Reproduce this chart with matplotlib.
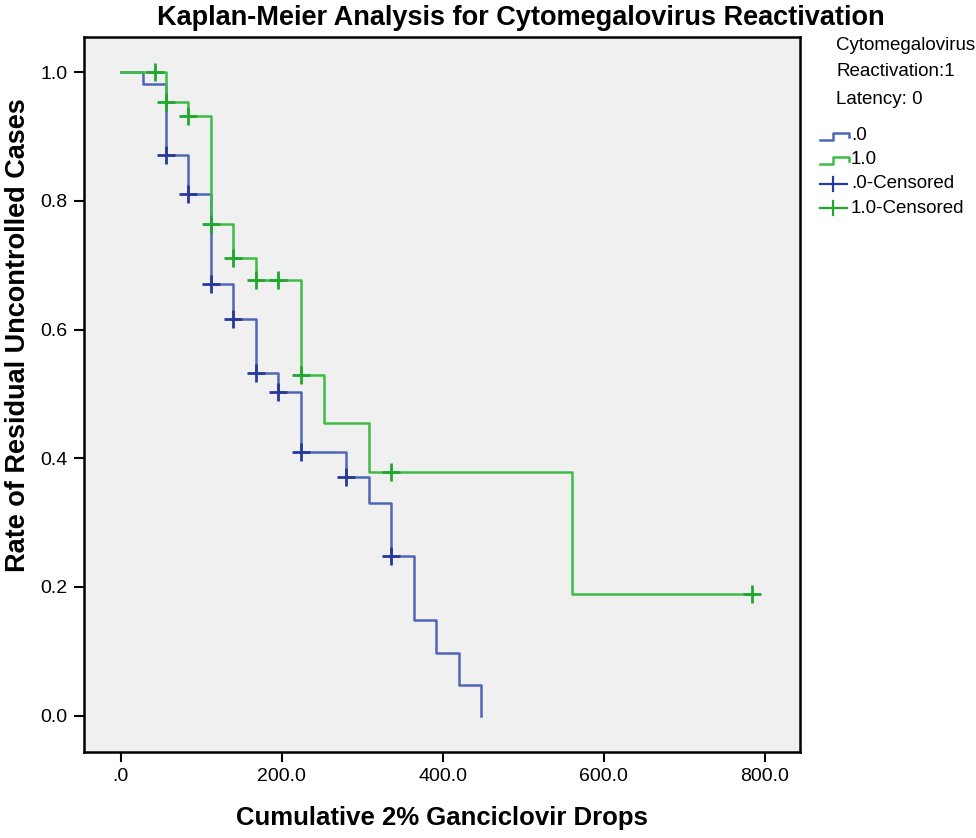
import matplotlib
matplotlib.use("Agg")
import matplotlib.pyplot as plt

plt.rcParams['font.family'] = ['Liberation Sans', 'DejaVu Sans']

# Group ".0"
t0 = [0, 28, 56, 84, 112, 140, 168, 196, 224, 280, 308, 336, 364, 392, 420, 448]
s0 = [1.0, 0.982, 0.871, 0.810, 0.671, 0.617, 0.532, 0.503, 0.409, 0.371, 0.330, 0.248, 0.148, 0.098, 0.048, 0.0]
c0_t = [56, 84, 112, 140, 168, 196, 224, 280, 336]
c0_s = [0.871, 0.810, 0.671, 0.617, 0.532, 0.503, 0.409, 0.371, 0.248]

# Group "1.0"
t1 = [0, 56, 84, 112, 140, 168, 224, 252, 308, 560, 784]
s1 = [1.0, 0.954, 0.932, 0.764, 0.711, 0.677, 0.530, 0.454, 0.379, 0.189, 0.189]
c1_t = [42, 56, 84, 112, 140, 168, 196, 224, 336, 784]
c1_s = [1.0, 0.954, 0.932, 0.764, 0.711, 0.677, 0.677, 0.530, 0.379, 0.189]

xticks = [0, 200, 400, 600, 800]
xticklabels = ['.0', '200.0', '400.0', '600.0', '800.0']
yticks = [0.0, 0.2, 0.4, 0.6, 0.8, 1.0]
yticklabels = ['0.0', '0.2', '0.4', '0.6', '0.8', '1.0']

blue_line = '#4f66b8'
blue_cens = '#27399a'
green_line = '#3dbb46'
green_cens = '#1fa82d'

W, H = 976, 838
fig = plt.figure(figsize=(W / 100, H / 100), dpi=100)
ax = fig.add_axes([84 / W, 1 - 751.7 / H, (800 - 84) / W, (751.7 - 36.7) / H])
ax.set_facecolor('#f0f0f0')

ax.step(t0, s0, where='post', color=blue_line, lw=1.8, zorder=2)
ax.step(t1, s1, where='post', color=green_line, lw=1.8, zorder=3)
ax.plot(c0_t, c0_s, ls='none', marker='+', ms=13, mew=2.0, color=blue_cens, zorder=4)
ax.plot(c1_t, c1_s, ls='none', marker='+', ms=13, mew=2.0, color=green_cens, zorder=5)

ax.set_xlim(-45.6, 843.8)
ax.set_ylim(-0.056, 1.055)
ax.set_xticks(xticks)
ax.set_xticklabels(xticklabels)
ax.set_yticks(yticks)
ax.set_yticklabels(yticklabels)
ax.tick_params(direction='out', length=7, width=1.5, labelsize=14, colors='black', pad=5)
for sp in ax.spines.values():
    sp.set_linewidth(1.8)
    sp.set_color('black')

fig.text(442 / W, 1 - 818 / H, 'Cumulative 2% Ganciclovir Drops', fontsize=18.5,
         fontweight='bold', ha='center', va='center')
fig.text(18 / W, 1 - 335 / H, 'Rate of Residual Uncontrolled Cases', fontsize=19.5,
         fontweight='bold', ha='center', va='center', rotation=90)
fig.text(521 / W, 1 - 18 / H, 'Kaplan-Meier Analysis for Cytomegalovirus Reactivation',
         fontsize=19.5, fontweight='bold', ha='center', va='center')

# legend drawn in pixel space
lg = fig.add_axes([0, 0, 1, 1], facecolor='none')
lg.set_xlim(0, W)
lg.set_ylim(H, 0)
lg.axis('off')
for txt, y in [('Cytomegalovirus', 46), ('Reactivation:1', 72), ('Latency: 0', 99)]:
    lg.text(836, y, txt, fontsize=13.5, ha='left', va='center')
for col, y, lab in [(blue_line, 136, '.0'), (green_line, 160, '1.0')]:
    lg.plot([820, 833, 833, 849, 849], [y + 4, y + 4, y - 3, y - 3, y + 1], color=col, lw=1.8)
    lg.text(851, y, lab, fontsize=13.5, ha='left', va='center')
for col, y, lab in [(blue_cens, 184, '.0-Censored'), (green_cens, 208, '1.0-Censored')]:
    lg.plot([820, 847], [y, y], color=col, lw=1.6)
    lg.plot([833, 833], [y - 7, y + 7], color=col, lw=1.6)
    lg.text(851, y, lab, fontsize=13.5, ha='left', va='center')

fig.savefig('out.png', dpi=100)
